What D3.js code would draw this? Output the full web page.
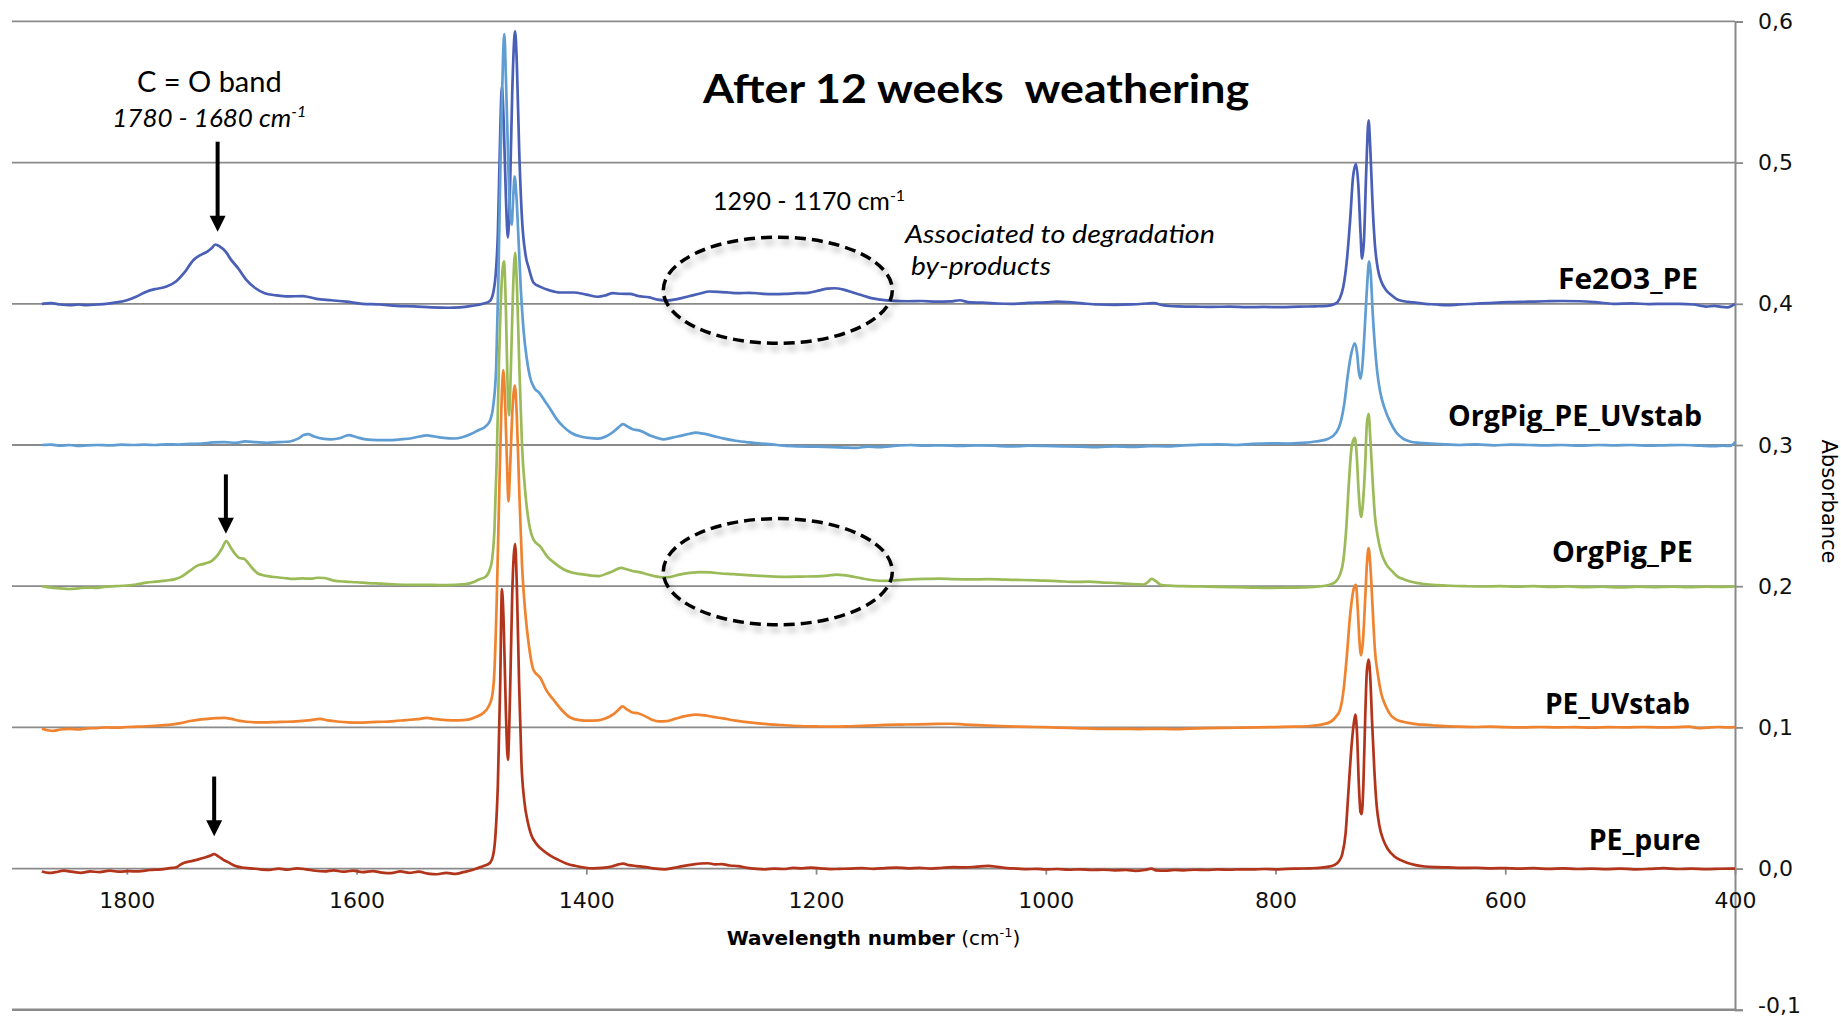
<!DOCTYPE html>
<html><head><meta charset="utf-8">
<script src="https://cdn.jsdelivr.net/npm/d3@7"></script>
<style>
html,body{margin:0;padding:0;background:#fff;}
svg{display:block;}
</style></head><body>
<svg id="chart" width="1841" height="1020"></svg>
<script>
// ---------------- DATA ----------------
const seriesNames = ["Fe2O3_PE", "OrgPig_PE_UVstab", "OrgPig_PE", "PE_UVstab", "PE_pure"];

const fe2o3PE = [[1874,0.400],[1866,0.4005],[1858,0.3995],[1850,0.3990],[1842,0.3995],[1835,0.3990],[1826,0.3995],[1818,0.4000],[1809,0.4010],[1800,0.4025],[1792,0.4050],[1783,0.4086],[1775,0.4105],[1766,0.4120],[1757,0.4160],[1750,0.4220],[1742,0.4310],[1736,0.4345],[1730,0.4370],[1726,0.4395],[1723,0.4420],[1719,0.4405],[1714,0.4370],[1710,0.4320],[1703,0.4250],[1696,0.4170],[1688,0.4110],[1680,0.4075],[1670,0.4060],[1660,0.4052],[1647,0.4055],[1635,0.4035],[1622,0.4025],[1609,0.4015],[1595,0.4000],[1580,0.3995],[1565,0.3985],[1550,0.3982],[1535,0.3975],[1520,0.3972],[1510,0.3975],[1500,0.3985],[1490,0.4000],[1484,0.4020],[1481,0.4080],[1479,0.4200],[1477,0.4500],[1475,0.5200],[1473.5,0.5540],[1472,0.5300],[1470,0.4750],[1468.3,0.4470],[1466.5,0.4800],[1464.5,0.5500],[1462,0.5930],[1460.5,0.5700],[1458.5,0.5100],[1456,0.4600],[1453,0.4350],[1450,0.4250],[1446,0.4150],[1440,0.4120],[1432,0.4095],[1423,0.4080],[1411,0.4080],[1400,0.4065],[1390,0.4050],[1383,0.4060],[1377,0.4075],[1370,0.4071],[1362,0.4070],[1355,0.4055],[1345,0.4045],[1338,0.4030],[1330,0.4024],[1320,0.4035],[1310,0.4055],[1300,0.4075],[1293,0.4087],[1285,0.4085],[1276,0.4080],[1268,0.4075],[1258,0.4078],[1248,0.4072],[1238,0.4068],[1227,0.4070],[1217,0.4075],[1207,0.4078],[1197,0.4095],[1190,0.4108],[1184,0.4110],[1176,0.4100],[1168,0.4080],[1160,0.4060],[1152,0.4040],[1144,0.4030],[1135,0.4022],[1120,0.4018],[1108,0.4020],[1095,0.4015],[1083,0.4017],[1075,0.4025],[1066,0.4010],[1055,0.4008],[1042,0.4002],[1030,0.4000],[1015,0.4006],[1000,0.4010],[990,0.4015],[981,0.4012],[968,0.4003],[955,0.3995],[940,0.3993],[925,0.3996],[912,0.4002],[906,0.4005],[898,0.3990],[885,0.3982],[870,0.3980],[855,0.3978],[840,0.3980],[825,0.3976],[810,0.3978],[795,0.3976],[780,0.3980],[765,0.3982],[755,0.3985],[748,0.4000],[744,0.4040],[741,0.4120],[738,0.4300],[735,0.4600],[732.5,0.4900],[730,0.4990],[728,0.4850],[726,0.4500],[724.7,0.4320],[723,0.4450],[721,0.4950],[719,0.5300],[717.5,0.5100],[715.5,0.4700],[713.5,0.4420],[711,0.4250],[708,0.4160],[704,0.4100],[699,0.4060],[694,0.4030],[688,0.4018],[680,0.4010],[670,0.4000],[660,0.3995],[651,0.3990],[640,0.3995],[628,0.4000],[615,0.4005],[603,0.4010],[593,0.4012],[580,0.4015],[565,0.4018],[550,0.4020],[535,0.4018],[520,0.4010],[506,0.4000],[490,0.4003],[475,0.3998],[460,0.4000],[448,0.4000],[436,0.3995],[425,0.3980],[418,0.3985],[412,0.3978],[407,0.3975],[403,0.3985],[400,0.4000]];

const orgPigPEUVstab = [[1874,0.3000],[1866,0.3003],[1858,0.2995],[1850,0.3000],[1842,0.2993],[1835,0.2998],[1826,0.3000],[1815,0.2997],[1805,0.3002],[1795,0.3000],[1785,0.3003],[1775,0.3000],[1765,0.3005],[1755,0.3003],[1745,0.3008],[1735,0.3010],[1725,0.3018],[1715,0.3020],[1705,0.3015],[1697,0.3025],[1688,0.3020],[1678,0.3015],[1668,0.3020],[1658,0.3025],[1651,0.3045],[1646,0.3070],[1642,0.3077],[1637,0.3060],[1630,0.3045],[1622,0.3040],[1614,0.3050],[1607,0.3070],[1600,0.3055],[1592,0.3040],[1582,0.3035],[1572,0.3035],[1562,0.3040],[1552,0.3048],[1545,0.3060],[1539,0.3068],[1532,0.3060],[1524,0.3050],[1515,0.3046],[1508,0.3055],[1500,0.3080],[1494,0.3105],[1488,0.3130],[1484,0.3170],[1481,0.3280],[1478.5,0.3550],[1476.5,0.4200],[1474.5,0.5100],[1472.5,0.5750],[1471.4,0.5910],[1470,0.5600],[1468,0.5000],[1466.5,0.4650],[1465,0.4560],[1463.5,0.4780],[1462.4,0.4900],[1461,0.4780],[1459,0.4450],[1457,0.4100],[1454.5,0.3800],[1452,0.3620],[1449,0.3480],[1445,0.3400],[1441,0.3370],[1436,0.3310],[1431,0.3250],[1426,0.3185],[1420,0.3130],[1413,0.3085],[1405,0.3060],[1398,0.3050],[1390,0.3045],[1383,0.3060],[1377,0.3090],[1372,0.3125],[1368,0.3148],[1364,0.3130],[1359,0.3110],[1355,0.3105],[1350,0.3090],[1344,0.3065],[1338,0.3050],[1333,0.3040],[1326,0.3050],[1318,0.3065],[1310,0.3080],[1305,0.3087],[1298,0.3080],[1290,0.3065],[1280,0.3045],[1270,0.3030],[1258,0.3018],[1248,0.3010],[1239,0.3005],[1228,0.2995],[1215,0.2990],[1200,0.2988],[1185,0.2985],[1175,0.2982],[1165,0.2980],[1155,0.2988],[1145,0.2985],[1130,0.2995],[1118,0.3000],[1105,0.2995],[1090,0.2998],[1075,0.2993],[1060,0.2997],[1045,0.2995],[1030,0.2990],[1015,0.2995],[1000,0.2993],[985,0.2990],[970,0.2988],[955,0.2985],[940,0.2990],[925,0.2986],[910,0.2992],[895,0.2990],[880,0.2998],[865,0.3002],[850,0.3005],[835,0.3000],[820,0.3008],[805,0.3012],[790,0.3010],[777,0.3015],[765,0.3025],[754,0.3045],[747,0.3090],[743,0.3170],[740,0.3300],[737,0.3500],[734.5,0.3630],[731,0.3720],[729,0.3650],[727.5,0.3520],[726,0.3470],[724.5,0.3550],[722.5,0.3800],[720.5,0.4100],[718.5,0.4300],[717,0.4200],[715.5,0.3950],[713.5,0.3700],[711.5,0.3520],[709,0.3380],[705,0.3260],[700,0.3160],[695,0.3090],[689,0.3045],[683,0.3025],[675,0.3015],[665,0.3010],[652,0.3005],[640,0.3000],[625,0.3005],[610,0.2998],[595,0.3002],[580,0.3000],[565,0.2997],[550,0.3000],[535,0.2995],[520,0.3000],[505,0.2997],[490,0.3000],[475,0.2995],[460,0.2998],[445,0.3000],[430,0.2995],[418,0.2992],[410,0.2995],[405,0.2993],[401,0.3010],[400,0.3025]];

const orgPigPE = [[1874,0.2000],[1866,0.1990],[1858,0.1985],[1850,0.1980],[1842,0.1985],[1835,0.1990],[1827,0.1988],[1820,0.1995],[1810,0.2000],[1800,0.2005],[1792,0.2012],[1783,0.2025],[1775,0.2032],[1766,0.2040],[1758,0.2050],[1752,0.2070],[1745,0.2110],[1739,0.2144],[1732,0.2160],[1726,0.2180],[1721,0.2220],[1717,0.2270],[1713.5,0.2320],[1710,0.2280],[1706,0.2230],[1702,0.2200],[1698,0.2195],[1694,0.2160],[1690,0.2120],[1686,0.2090],[1680,0.2075],[1672,0.2065],[1663,0.2058],[1655,0.2052],[1647,0.2055],[1640,0.2053],[1634,0.2060],[1628,0.2058],[1620,0.2040],[1610,0.2032],[1600,0.2028],[1590,0.2022],[1578,0.2018],[1565,0.2012],[1552,0.2010],[1540,0.2010],[1528,0.2008],[1515,0.2010],[1505,0.2015],[1498,0.2030],[1493,0.2050],[1488,0.2065],[1484,0.2120],[1482,0.2190],[1480,0.2400],[1478,0.2900],[1476,0.3600],[1474,0.4100],[1471.7,0.4300],[1470,0.3950],[1468.5,0.3400],[1467.3,0.3210],[1466,0.3450],[1464,0.4050],[1462,0.4360],[1460.5,0.4150],[1458.5,0.3600],[1456,0.3000],[1453,0.2650],[1450,0.2450],[1446,0.2330],[1440,0.2280],[1434,0.2210],[1427,0.2160],[1420,0.2120],[1412,0.2095],[1404,0.2085],[1396,0.2075],[1389,0.2072],[1382,0.2090],[1376,0.2110],[1370,0.2130],[1365,0.2120],[1360,0.2108],[1354,0.2100],[1347,0.2085],[1340,0.2070],[1333,0.2062],[1327,0.2065],[1320,0.2080],[1310,0.2095],[1300,0.2100],[1292,0.2098],[1283,0.2090],[1272,0.2085],[1260,0.2078],[1248,0.2073],[1236,0.2068],[1225,0.2066],[1213,0.2068],[1200,0.2070],[1190,0.2075],[1182,0.2082],[1176,0.2078],[1168,0.2068],[1160,0.2055],[1150,0.2042],[1140,0.2038],[1130,0.2042],[1118,0.2048],[1105,0.2052],[1093,0.2054],[1080,0.2050],[1065,0.2048],[1050,0.2050],[1035,0.2046],[1020,0.2044],[1005,0.2040],[990,0.2036],[975,0.2030],[963,0.2032],[950,0.2026],[937,0.2022],[925,0.2015],[915,0.2012],[911,0.2030],[908,0.2052],[904,0.2035],[900,0.2010],[892,0.2004],[880,0.2000],[865,0.1998],[850,0.1995],[835,0.1993],[820,0.1990],[805,0.1988],[790,0.1990],[775,0.1992],[762,0.1998],[754,0.2008],[748,0.2030],[744,0.2080],[741,0.2180],[738.5,0.2400],[736,0.2750],[733.5,0.3000],[731,0.3050],[729.5,0.2950],[727.5,0.2650],[725.5,0.2490],[724,0.2580],[722,0.2850],[720.5,0.3150],[719,0.3220],[717.5,0.3050],[715.5,0.2750],[713.5,0.2500],[711,0.2350],[708,0.2240],[704,0.2160],[699,0.2110],[694,0.2070],[688,0.2048],[680,0.2028],[670,0.2015],[660,0.2008],[648,0.2003],[635,0.2000],[620,0.1998],[605,0.2000],[590,0.1997],[575,0.2000],[560,0.1995],[545,0.1998],[530,0.1993],[515,0.1996],[500,0.1992],[485,0.1996],[470,0.1994],[455,0.1996],[440,0.1993],[425,0.1996],[412,0.1995],[400,0.1998]];

const peUVstab = [[1874,0.0990],[1869,0.0980],[1864,0.0975],[1858,0.0985],[1850,0.0990],[1842,0.0985],[1835,0.0993],[1826,0.0995],[1818,0.1000],[1808,0.0998],[1800,0.1003],[1790,0.1005],[1780,0.1010],[1770,0.1015],[1760,0.1022],[1752,0.1032],[1745,0.1045],[1737,0.1055],[1730,0.1060],[1722,0.1065],[1715,0.1068],[1709,0.1060],[1703,0.1048],[1696,0.1040],[1688,0.1036],[1680,0.1035],[1670,0.1038],[1660,0.1040],[1650,0.1045],[1640,0.1052],[1632,0.1060],[1625,0.1050],[1617,0.1042],[1607,0.1036],[1597,0.1034],[1587,0.1038],[1577,0.1040],[1567,0.1045],[1557,0.1052],[1547,0.1058],[1539,0.1068],[1531,0.1058],[1522,0.1052],[1512,0.1050],[1503,0.1055],[1496,0.1075],[1490,0.1100],[1485,0.1150],[1482,0.1220],[1480,0.1400],[1478,0.1900],[1476,0.2600],[1474,0.3250],[1472.3,0.3530],[1470.5,0.3250],[1469,0.2850],[1467.8,0.2600],[1466.3,0.2850],[1464.3,0.3250],[1462.2,0.3420],[1460.5,0.3200],[1458.5,0.2700],[1456,0.2150],[1453,0.1800],[1450,0.1580],[1446,0.1406],[1440,0.1350],[1434.6,0.1260],[1428,0.1190],[1421,0.1120],[1414,0.1070],[1406,0.1052],[1398,0.1048],[1390,0.1050],[1383,0.1065],[1377,0.1090],[1372,0.1125],[1368.6,0.1149],[1365,0.1130],[1360,0.1106],[1355,0.1100],[1349,0.1080],[1343,0.1055],[1337,0.1042],[1330,0.1045],[1323,0.1060],[1315,0.1078],[1305,0.1090],[1297,0.1085],[1290,0.1075],[1280,0.1062],[1270,0.1048],[1258,0.1035],[1245,0.1025],[1230,0.1017],[1215,0.1010],[1200,0.1007],[1185,0.1005],[1170,0.1008],[1155,0.1012],[1140,0.1018],[1125,0.1020],[1110,0.1022],[1095,0.1025],[1083,0.1026],[1070,0.1020],[1055,0.1015],[1040,0.1010],[1025,0.1006],[1010,0.1003],[995,0.1000],[980,0.0996],[965,0.0993],[950,0.0990],[935,0.0990],[919,0.0988],[905,0.0990],[890,0.0988],[875,0.0992],[860,0.0995],[845,0.0997],[830,0.0998],[815,0.1000],[800,0.1002],[785,0.1005],[770,0.1010],[760,0.1020],[752,0.1040],[747,0.1080],[744,0.1120],[741,0.1250],[738,0.1500],[735,0.1800],[732,0.1980],[730,0.2010],[728.5,0.1850],[727,0.1620],[725.5,0.1510],[724,0.1600],[722,0.1900],[720.5,0.2150],[719,0.2270],[717.5,0.2150],[715.5,0.1850],[713.5,0.1550],[711,0.1380],[708,0.1240],[704,0.1150],[700,0.1090],[695,0.1055],[689,0.1040],[683,0.1030],[676,0.1022],[668,0.1018],[660,0.1012],[650,0.1008],[640,0.1005],[627,0.1003],[613,0.1006],[600,0.1002],[585,0.1000],[570,0.1003],[555,0.1000],[540,0.1002],[525,0.0998],[510,0.1002],[495,0.1000],[480,0.1003],[465,0.1000],[450,0.1002],[440,0.1005],[432,0.0995],[425,0.0998],[415,0.1003],[407,0.1000],[400,0.1002]];

const pePure = [[1874,-0.0020],[1868,-0.0030],[1862,-0.0025],[1855,-0.0015],[1848,-0.0022],[1840,-0.0030],[1832,-0.0020],[1824,-0.0025],[1815,-0.0015],[1806,-0.0022],[1798,-0.0018],[1790,-0.0020],[1780,-0.0010],[1770,-0.0005],[1763,0.0003],[1757,0.0010],[1752,0.0035],[1746,0.0050],[1740,0.0060],[1733,0.0077],[1728,0.0090],[1724,0.0102],[1720,0.0085],[1716,0.0062],[1712,0.0046],[1706,0.0020],[1700,0.0008],[1692,0.0002],[1684,-0.0005],[1676,-0.0010],[1668,0.0000],[1660,-0.0008],[1652,0.0002],[1644,-0.0005],[1636,-0.0015],[1628,-0.0020],[1620,-0.0012],[1612,-0.0022],[1603,-0.0015],[1595,-0.0025],[1586,-0.0018],[1578,-0.0028],[1570,-0.0032],[1562,-0.0020],[1554,-0.0030],[1546,-0.0022],[1538,-0.0035],[1530,-0.0040],[1522,-0.0030],[1514,-0.0038],[1507,-0.0025],[1500,-0.0012],[1494,0.0005],[1489,0.0020],[1484,0.0040],[1481,0.0100],[1479,0.0250],[1477,0.0600],[1475,0.1300],[1473.5,0.1980],[1472,0.1750],[1470,0.1100],[1468.3,0.0770],[1466.5,0.1200],[1464.5,0.1950],[1462,0.2300],[1460.5,0.2000],[1458.5,0.1300],[1456.5,0.0750],[1454,0.0480],[1451,0.0330],[1448,0.0240],[1443,0.0170],[1437,0.0125],[1431,0.0090],[1424,0.0060],[1417,0.0035],[1410,0.0020],[1402,0.0008],[1394,0.0002],[1386,0.0005],[1378,0.0015],[1372,0.0030],[1368,0.0035],[1363,0.0025],[1356,0.0018],[1348,0.0010],[1340,0.0000],[1332,-0.0005],[1324,0.0005],[1316,0.0018],[1308,0.0028],[1300,0.0036],[1294,0.0038],[1288,0.0030],[1282,0.0032],[1275,0.0022],[1268,0.0018],[1260,0.0005],[1252,-0.0002],[1244,-0.0005],[1236,0.0000],[1228,-0.0003],[1220,0.0005],[1212,0.0002],[1204,0.0007],[1196,0.0002],[1188,-0.0004],[1180,-0.0002],[1170,0.0000],[1160,0.0003],[1150,-0.0002],[1140,0.0004],[1130,0.0007],[1120,0.0002],[1110,0.0005],[1100,0.0000],[1090,0.0006],[1080,0.0010],[1070,0.0008],[1060,0.0014],[1050,0.0019],[1042,0.0012],[1034,0.0004],[1025,0.0000],[1016,-0.0004],[1008,-0.0002],[1000,-0.0006],[990,-0.0003],[980,-0.0008],[970,-0.0005],[960,-0.0010],[950,-0.0008],[940,-0.0012],[930,-0.0010],[922,-0.0016],[914,-0.0010],[908,0.0000],[904,-0.0012],[896,-0.0015],[888,-0.0010],[880,-0.0012],[870,-0.0008],[860,-0.0010],[850,-0.0006],[840,-0.0008],[830,-0.0005],[820,-0.0006],[810,-0.0003],[800,-0.0005],[790,-0.0002],[780,0.0000],[770,0.0002],[762,0.0005],[755,0.0012],[749,0.0025],[745,0.0050],[742,0.0100],[739,0.0250],[736.5,0.0550],[734,0.0850],[732,0.1020],[730.5,0.1090],[729,0.0950],[727.5,0.0600],[726,0.0400],[725,0.0386],[723.5,0.0600],[722,0.1050],[720.5,0.1400],[719,0.1480],[717.5,0.1350],[716,0.1050],[714,0.0700],[712,0.0450],[709.5,0.0300],[706,0.0200],[702,0.0135],[697,0.0090],[691,0.0060],[685,0.0040],[678,0.0025],[670,0.0015],[660,0.0010],[650,0.0008],[638,0.0005],[625,0.0006],[612,0.0002],[600,0.0004],[588,0.0000],[575,0.0003],[562,-0.0002],[550,0.0002],[538,-0.0003],[525,0.0000],[512,-0.0004],[500,0.0000],[488,-0.0005],[475,-0.0002],[462,0.0003],[450,-0.0003],[438,0.0000],[425,-0.0004],[412,-0.0001],[400,0.0000]];

const seriesData = [fe2o3PE, orgPigPEUVstab, orgPigPE, peUVstab, pePure];

const xTicks = [1800, 1600, 1400, 1200, 1000, 800, 600, 400];
const yTicks = [-0.1, 0, 0.1, 0.2, 0.3, 0.4, 0.5, 0.6];
const yTickLabels = ["-0,1", "0,0", "0,1", "0,2", "0,3", "0,4", "0,5", "0,6"];

// ---------------- STYLE / LAYOUT ----------------
const seriesColors = ["#4a5fb6", "#5f9dd3", "#9bbb59", "#f0832f", "#b2341b"];
// label anchors (in data units: wavenumber, absorbance)
const labelAnchors = [[432.2, 0.4105], [428.7, 0.3137], [436.6, 0.2169], [439.2, 0.1098], [429.9, 0.0132]];
const labelWidths = [140, 254, 141, 145, 112];

const svg = d3.select("#chart");
const x = d3.scaleLinear().domain([1900, 400]).range([12, 1735]);
const y = d3.scaleLinear().domain([-0.1, 0.6]).range([1009.8, 21.4]);

const defs = svg.append("defs");
const f = defs.append("filter").attr("id", "shadow").attr("x", "-20%").attr("y", "-30%").attr("width", "140%").attr("height", "170%");
f.append("feDropShadow").attr("dx", 3).attr("dy", 5).attr("stdDeviation", 3)
  .attr("flood-color", "#000").attr("flood-opacity", 0.3);

const gridColor = "#8a8a8a";

// gridlines
svg.append("g").selectAll("line").data(yTicks).join("line")
  .attr("x1", x(1900)).attr("x2", x(400))
  .attr("y1", d => y(d)).attr("y2", d => y(d))
  .attr("stroke", gridColor)
  .attr("stroke-width", d => d === -0.1 ? 2.5 : 1.8);

// right axis
const yAxis = d3.axisRight(y).tickValues(yTicks).tickSize(8).tickPadding(15)
  .tickFormat((d, i) => yTickLabels[i]);
const yg = svg.append("g").attr("transform", `translate(${x(400)},0)`).call(yAxis);
yg.select(".domain").attr("stroke", gridColor).attr("stroke-width", 2);
yg.selectAll(".tick line").attr("stroke", gridColor).attr("stroke-width", 1.8);
yg.selectAll(".tick text").attr("font-family", "DejaVu Sans").attr("font-size", 22).attr("fill", "#111")
  .attr("dy", d => d === -0.1 ? "0.1em" : "0.32em");

// bottom axis at y = 0
const xAxis = d3.axisBottom(x).tickValues(xTicks).tickSize(6).tickPadding(18).tickFormat(d3.format("d"));
const xg = svg.append("g").attr("transform", `translate(0,${y(0)})`).call(xAxis);
xg.select(".domain").remove();
xg.selectAll(".tick line").attr("stroke", gridColor).attr("stroke-width", 1.8);
xg.selectAll(".tick text").attr("font-family", "DejaVu Sans").attr("font-size", 22).attr("fill", "#111");

// series lines
const line = d3.line().x(d => x(d[0])).y(d => y(d[1])).curve(d3.curveMonotoneX);
svg.append("g").selectAll("path").data(seriesData).join("path")
  .attr("d", line)
  .attr("fill", "none")
  .attr("stroke", (d, i) => seriesColors[i])
  .attr("stroke-width", 2.7)
  .attr("stroke-linejoin", "round");

// series labels
svg.append("g").selectAll("text").data(seriesNames).join("text")
  .attr("x", (d, i) => x(labelAnchors[i][0]) - labelWidths[i])
  .attr("y", (d, i) => y(labelAnchors[i][1]))
  .attr("textLength", (d, i) => labelWidths[i])
  .attr("lengthAdjust", "spacingAndGlyphs")
  .attr("font-family", "Open Sans").attr("font-weight", 700).attr("font-size", 28)
  .attr("fill", "#000")
  .text(d => d);

// axis titles
const xt = svg.append("text").attr("x", x(1150)).attr("y", 945)
  .attr("text-anchor", "middle").attr("font-family", "DejaVu Sans").attr("font-size", 20).attr("fill", "#000");
xt.append("tspan").attr("font-weight", 700).text("Wavelength number");
xt.append("tspan").text(" (cm");
xt.append("tspan").attr("font-size", 13).attr("dy", -8).text("-1");
xt.append("tspan").attr("dy", 8).text(")");

svg.append("text").attr("transform", `translate(1822,${y(0.26)}) rotate(90)`)
  .attr("text-anchor", "middle").attr("font-family", "DejaVu Sans").attr("font-size", 21)
  .attr("fill", "#000").text("Absorbance");

// chart title
svg.append("text").attr("x", 703).attr("y", 103)
  .attr("textLength", 546).attr("lengthAdjust", "spacingAndGlyphs")
  .attr("font-family", "Lato").attr("font-weight", 700).attr("font-size", 40)
  .style("white-space", "pre").attr("fill", "#000")
  .text("After 12 weeks  weathering");

// annotations
const annoFont = "Lato";
svg.append("text").attr("x", x(1728.2)).attr("y", y(0.5500)).attr("text-anchor", "middle")
  .attr("font-family", annoFont).attr("font-size", 29).attr("fill", "#000")
  .text("C = O band");
const t2 = svg.append("text").attr("x", x(1728.3)).attr("y", y(0.5252)).attr("text-anchor", "middle")
  .attr("font-family", annoFont).attr("font-style", "italic").attr("font-size", 26).attr("fill", "#000");
t2.append("tspan").text("1780 - 1680 cm");
t2.append("tspan").attr("font-size", 16).attr("dy", -10).text("-1");

const t3 = svg.append("text").attr("x", x(1289.8)).attr("y", y(0.4664))
  .attr("font-family", annoFont).attr("font-size", 25).attr("fill", "#000");
t3.append("tspan").text("1290 - 1170 cm");
t3.append("tspan").attr("font-size", 16).attr("dy", -9).text("-1");

svg.append("text").attr("x", x(1122.6)).attr("y", y(0.4431))
  .attr("textLength", 310).attr("lengthAdjust", "spacingAndGlyphs")
  .attr("font-family", annoFont).attr("font-style", "italic").attr("font-size", 26).attr("fill", "#000")
  .text("Associated to degradation");
svg.append("text").attr("x", x(1117.4)).attr("y", y(0.4204))
  .attr("textLength", 140).attr("lengthAdjust", "spacingAndGlyphs")
  .attr("font-family", annoFont).attr("font-style", "italic").attr("font-size", 26).attr("fill", "#000")
  .text("by-products");

// arrows [wavenumber, top absorbance, tip absorbance]
const arrows = [[1721, 0.5148, 0.4511], [1713.8, 0.2792, 0.2371], [1724, 0.0652, 0.0229]];
const ag = svg.append("g");
arrows.forEach(a => {
  const ax = x(a[0]), y0 = y(a[1]), y1 = y(a[2]);
  ag.append("line").attr("x1", ax).attr("x2", ax).attr("y1", y0).attr("y2", y1 - 12)
    .attr("stroke", "#000").attr("stroke-width", 4);
  ag.append("path").attr("d", `M${ax - 8},${y1 - 16}L${ax + 8},${y1 - 16}L${ax},${y1}Z`).attr("fill", "#000");
});

// dashed ellipses [center wavenumber, center absorbance]
const ellipses = [[1233.3, 0.4096], [1233.3, 0.2103]];
svg.append("g").selectAll("ellipse").data(ellipses).join("ellipse")
  .attr("cx", d => x(d[0])).attr("cy", d => y(d[1]))
  .attr("rx", d => x(d[0] - 99.7) - x(d[0]))
  .attr("ry", d => y(d[1]) - y(d[1] + 0.0376))
  .attr("fill", "none").attr("stroke", "#000").attr("stroke-width", 3.5)
  .attr("stroke-dasharray", "11 6").attr("filter", "url(#shadow)");
</script>
</body></html>
